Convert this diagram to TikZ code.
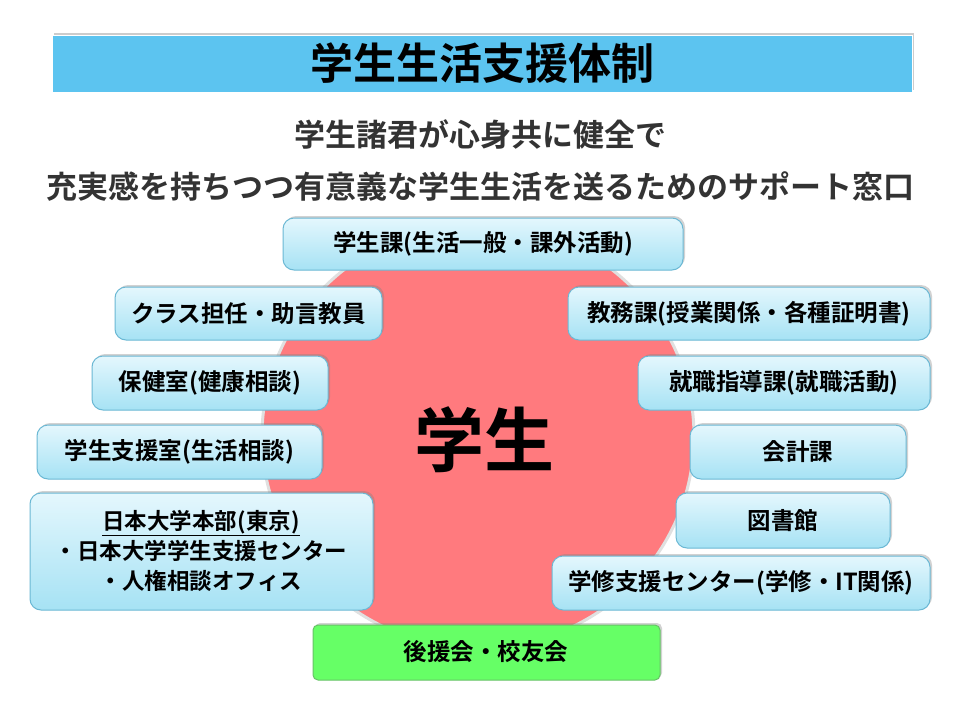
\documentclass[tikz,border=0pt]{standalone}
\usepackage{fontspec}
\setmainfont{Noto Sans CJK JP}[BoldFont={* Bold}]
\usetikzlibrary{shadows}
\definecolor{bxtop}{HTML}{E4F7FD}
\definecolor{bxbot}{HTML}{A6E2F4}
\definecolor{bxline}{HTML}{6BB8D4}
\definecolor{titlebg}{HTML}{5CC4F0}
\definecolor{redc}{HTML}{FF7A7E}
\definecolor{greenc}{HTML}{66FF66}
\tikzset{
 bx/.style={draw=bxline,line width=1pt,rounded corners=11pt,top color=bxtop,bottom color=bxbot,drop shadow={shadow xshift=2pt,shadow yshift=2pt,opacity=0.35}},
 lbl/.style={font=\bfseries\fontsize{23.5}{28}\selectfont,align=center,inner sep=0pt}
}
\newcommand{\bxat}[6]{\path[bx] (#1,#2) rectangle (#3,#4); \node[lbl] (#5) at ({(#1+#3)/2},{(#2+#4)/2}) {#6};}
\begin{document}
\begin{tikzpicture}[x=1pt,y=-1pt]
\useasboundingbox (0,0) rectangle (960,720);
\fill[white] (0,0) rectangle (960,720);
% title
\path[fill=titlebg,draw=white,line width=1pt,drop shadow={shadow xshift=2pt,shadow yshift=2pt,opacity=0.4}] (52,35) rectangle (912,92);
\node[font=\bfseries\fontsize{43}{48}\selectfont] (title) at (482,63) {学生生活支援体制};
\node[font=\bfseries\fontsize{31}{36}\selectfont,text=black!80] (sub1) at (480,135) {学生諸君が心身共に健全で};
\node[font=\bfseries\fontsize{31}{36}\selectfont,text=black!80] (sub2) at (480,186) {充実感を持ちつつ有意義な学生生活を送るためのサポート窓口};
% ellipse
\draw[fill=redc,draw=black!12,line width=3pt] (478,436) ellipse (216pt and 212pt);
\node[font=\bfseries\fontsize{70}{74}\selectfont] (stu) at (484,440) {学生};
% boxes
\bxat{283}{218}{683}{270}{b1}{学生課(生活一般・課外活動)}
\bxat{115}{287}{382}{340}{b2}{クラス担任・助言教員}
\bxat{92}{356}{328}{410}{b3}{保健室(健康相談)}
\bxat{37}{425}{322}{479}{b4}{学生支援室(生活相談)}
\path[bx] (30,493) rectangle (373,610);
\node[lbl,align=center,font=\bfseries\fontsize{22.5}{30}\selectfont] (b5) at (201,551) {\underline{日本大学本部(東京)}\\・日本大学学生支援センター\\・人権相談オフィス};
\bxat{568}{287}{930}{340}{b6}{教務課(授業関係・各種証明書)}
\bxat{638}{356}{930}{410}{b7}{就職指導課(就職活動)}
\bxat{690}{425}{906}{479}{b8}{会計課}
\bxat{676}{493}{890}{548}{b9}{図書館}
\bxat{552}{556}{930}{610}{b10}{学修支援センター(学修・IT関係)}
\path[draw=green!60!black!60,line width=1pt,rounded corners=5pt,fill=greenc,drop shadow={shadow xshift=2pt,shadow yshift=2pt,opacity=0.35}] (313,625) rectangle (660,680);
\node[lbl] (b11) at (486,652) {後援会・校友会};
\end{tikzpicture}
\end{document}
